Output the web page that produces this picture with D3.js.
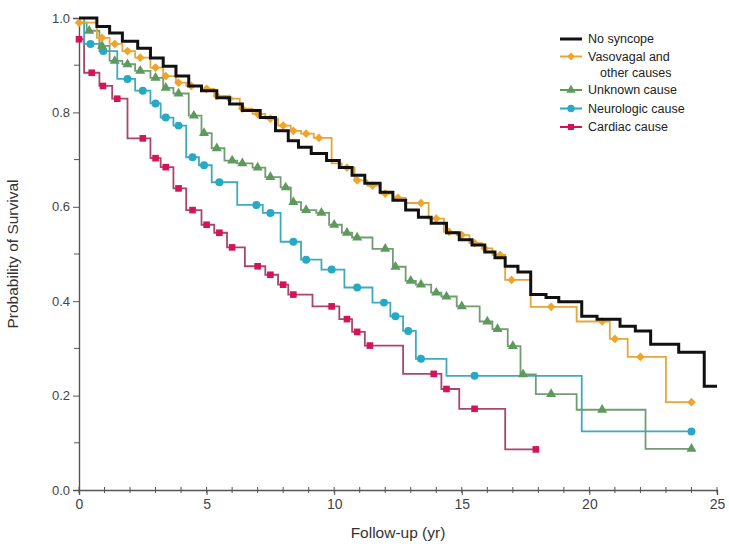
<!DOCTYPE html>
<html>
<head>
<meta charset="utf-8">
<script src="https://cdn.jsdelivr.net/npm/d3@7"></script>
<style>
  body { margin: 0; background: #fff; }
  text { font-family: "Liberation Sans", Arial, sans-serif; }
</style>
</head>
<body>
<div id="chart"></div>
<script>
// step data: time of drop (yr) and survival after it
var noSyncopeT = [0, 0.7, 1.2, 1.7, 2.3, 2.8, 3.3, 3.8, 4.3, 4.8, 5.4, 5.9, 6.4, 7.1, 7.7, 8.2, 8.6, 9.1, 9.7, 10.2, 10.7, 11.2, 11.8, 12.3, 12.8, 13.3, 13.8, 14.4, 14.9, 15.4, 15.9, 16.3, 16.7, 17.2, 17.7, 18.3, 18.8, 19.7, 20.3, 21.2, 21.8, 22.4, 23.5, 24.5];
var noSyncopeS = [1.0, 0.982, 0.968, 0.951, 0.936, 0.915, 0.898, 0.877, 0.856, 0.846, 0.831, 0.818, 0.804, 0.789, 0.761, 0.740, 0.726, 0.713, 0.698, 0.683, 0.667, 0.650, 0.631, 0.614, 0.593, 0.578, 0.565, 0.545, 0.530, 0.519, 0.504, 0.492, 0.474, 0.462, 0.414, 0.408, 0.399, 0.368, 0.362, 0.347, 0.337, 0.309, 0.292, 0.220];
var noSyncopeEnd = 25;
var noSyncopeMarks = [];

var vasovagalT = [0, 0.7, 1.2, 1.7, 2.2, 2.8, 3.3, 3.8, 4.2, 4.8, 5.3, 5.8, 6.3, 6.8, 7.3, 7.8, 8.3, 8.7, 9.2, 9.9, 10.3, 10.8, 11.3, 11.8, 12.3, 12.8, 13.7, 14.3, 14.8, 15.3, 15.8, 16.2, 16.7, 17.7, 19.5, 20.8, 21.5, 23.0];
var vasovagalS = [0.99, 0.958, 0.945, 0.930, 0.916, 0.895, 0.877, 0.863, 0.856, 0.850, 0.835, 0.829, 0.808, 0.797, 0.787, 0.772, 0.761, 0.755, 0.746, 0.692, 0.683, 0.656, 0.645, 0.628, 0.619, 0.608, 0.575, 0.547, 0.540, 0.523, 0.512, 0.498, 0.445, 0.388, 0.357, 0.320, 0.282, 0.186];
var vasovagalEnd = 24.0;
var vasovagalMarks = [0, 0.9, 1.4, 1.9, 2.4, 3.0, 3.4, 3.9, 4.4, 5.0, 5.4, 5.9, 6.4, 7.0, 7.5, 8.0, 8.4, 8.9, 9.4, 10.5, 10.9, 11.5, 12.0, 12.5, 13.4, 14.0, 14.5, 15.0, 15.5, 15.9, 16.5, 16.95, 18.5, 20.5, 21.0, 22.0, 24.0];

var unknownT = [0, 0.3, 0.8, 1.2, 1.7, 2.2, 2.8, 3.3, 3.7, 4.3, 4.8, 5.2, 5.7, 6.2, 6.8, 7.3, 7.9, 8.3, 8.7, 9.3, 9.8, 10.3, 10.7, 11.5, 12.3, 12.8, 13.2, 13.8, 14.2, 14.8, 15.7, 16.2, 16.8, 17.3, 17.9, 19.5, 22.2];
var unknownS = [0.99, 0.973, 0.941, 0.909, 0.902, 0.888, 0.873, 0.852, 0.840, 0.793, 0.756, 0.724, 0.698, 0.692, 0.683, 0.663, 0.641, 0.610, 0.593, 0.587, 0.562, 0.545, 0.535, 0.511, 0.473, 0.443, 0.435, 0.418, 0.410, 0.389, 0.357, 0.341, 0.305, 0.245, 0.203, 0.170, 0.087];
var unknownEnd = 24.0;
var unknownMarks = [0.4, 0.9, 1.4, 1.9, 2.4, 3.0, 3.4, 3.9, 4.5, 4.9, 5.4, 6.0, 6.4, 7.0, 7.5, 8.1, 8.4, 8.9, 9.5, 10.0, 10.5, 10.9, 12.0, 12.4, 13.0, 13.4, 14.0, 14.4, 15.0, 16.0, 16.4, 17.0, 17.4, 18.5, 20.5, 24.0];

var neuroT = [0, 0.2, 0.8, 1.5, 2.2, 2.8, 3.2, 3.7, 4.2, 4.7, 5.2, 6.2, 7.2, 7.9, 8.7, 9.5, 10.4, 11.5, 12.2, 12.7, 13.2, 14.4, 19.7];
var neuroS = [1.0, 0.945, 0.930, 0.871, 0.846, 0.819, 0.789, 0.772, 0.705, 0.688, 0.652, 0.604, 0.587, 0.526, 0.488, 0.467, 0.429, 0.397, 0.368, 0.337, 0.278, 0.242, 0.124];
var neuroEnd = 24.0;
var neuroMarks = [0.45, 0.95, 1.9, 2.5, 3.0, 3.4, 3.9, 4.45, 4.9, 5.5, 6.95, 7.5, 8.4, 8.9, 9.9, 10.9, 11.95, 12.4, 12.9, 13.4, 15.5, 24.0];

var cardiacT = [0, 0.2, 0.8, 1.3, 1.9, 2.8, 3.2, 3.7, 4.2, 4.8, 5.3, 5.8, 6.5, 7.3, 7.8, 8.2, 9.15, 10.2, 10.7, 11.2, 12.7, 14.2, 14.9, 16.7];
var cardiacS = [0.955, 0.884, 0.856, 0.829, 0.745, 0.703, 0.684, 0.639, 0.593, 0.562, 0.545, 0.514, 0.474, 0.456, 0.435, 0.414, 0.389, 0.362, 0.335, 0.306, 0.246, 0.214, 0.172, 0.086];
var cardiacEnd = 17.9;
var cardiacMarks = [0, 0.5, 0.94, 1.5, 2.5, 3.0, 3.4, 3.9, 4.45, 5.0, 5.5, 6.0, 7.0, 7.5, 8.0, 8.4, 9.9, 10.5, 10.9, 11.4, 13.9, 14.4, 15.5, 17.9];

var legendLabels = [["No syncope"], ["Vasovagal and", "other causes"], ["Unknown cause"], ["Neurologic cause"], ["Cardiac cause"]];
var xTicks = [0, 5, 10, 15, 20, 25];
var yTicks = [0, 0.2, 0.4, 0.6, 0.8, 1.0];

var W = 729, H = 548;
var margin = { top: 18, right: 12, bottom: 58, left: 79 };
var width = W - margin.left - margin.right;
var height = H - margin.top - margin.bottom;

var svg = d3.select("#chart").append("svg")
  .attr("width", W).attr("height", H)
  .append("g")
  .attr("transform", `translate(${margin.left},${margin.top})`);

var x = d3.scaleLinear().domain([0, 25]).range([0, width]);
var y = d3.scaleLinear().domain([0, 1]).range([height, 0]);

// diamond drawn as a square turned 45 degrees
var series = [
  { T: noSyncopeT, S: noSyncopeS, end: noSyncopeEnd, marks: noSyncopeMarks, line: "#111", fill: "#111", w: 3, sym: null },
  { T: vasovagalT, S: vasovagalS, end: vasovagalEnd, marks: vasovagalMarks, line: "#e3a73c", fill: "#f0a52a", w: 1.8, sym: d3.symbolSquare, rot: 45, size: 38 },
  { T: unknownT, S: unknownS, end: unknownEnd, marks: unknownMarks, line: "#739c73", fill: "#5e9a5c", w: 1.8, sym: d3.symbolTriangle, rot: 0, size: 44 },
  { T: neuroT, S: neuroS, end: neuroEnd, marks: neuroMarks, line: "#3eaabb", fill: "#27a9c6", w: 1.8, sym: d3.symbolCircle, rot: 0, size: 50 },
  { T: cardiacT, S: cardiacS, end: cardiacEnd, marks: cardiacMarks, line: "#a9466e", fill: "#d4145a", w: 1.8, sym: d3.symbolSquare, rot: 0, size: 44 }
];

// axes
var axisColor = "#555";
var yAxis = d3.axisLeft(y).tickValues(yTicks).tickFormat(d3.format(".1f")).tickSize(6).tickPadding(3);
var gy = svg.append("g").call(yAxis);
gy.selectAll(".tick text").attr("fill", "#444").style("font-size", "13px");
gy.append("g").selectAll("line").data(d3.range(0.1, 1, 0.2)).join("line")
  .attr("x1", -5).attr("x2", 0).attr("y1", d => y(d)).attr("y2", d => y(d)).attr("stroke", axisColor);

var xAxis = d3.axisBottom(x).tickValues(xTicks).tickSize(5).tickPadding(4);
var gx = svg.append("g").attr("transform", `translate(0,${height})`).call(xAxis);
gx.selectAll(".tick text").attr("fill", "#444").style("font-size", "14px");
gx.append("g").selectAll("line").data(d3.range(0, 26)).join("line")
  .attr("x1", d => x(d)).attr("x2", d => x(d)).attr("y1", -3).attr("y2", 3).attr("stroke", axisColor);
svg.selectAll(".domain, .tick line").attr("stroke", axisColor);
svg.selectAll(".domain").attr("stroke-width", 1.4);

svg.append("text")
  .attr("transform", `translate(${-61},${height / 2}) rotate(-90)`)
  .attr("text-anchor", "middle")
  .attr("fill", "#333")
  .style("font-size", "15.5px")
  .text("Probability of Survival");

svg.append("text")
  .attr("x", width / 2).attr("y", height + 48)
  .attr("text-anchor", "middle")
  .attr("fill", "#333")
  .style("font-size", "15.5px")
  .text("Follow-up (yr)");

// curves, drawn back to front
var line = d3.line().x(d => x(d[0])).y(d => y(d[1])).curve(d3.curveStepAfter);

function survAt(s, t) {
  var i = d3.bisectRight(s.T, t) - 1;
  return s.S[Math.max(i, 0)];
}

series.slice().reverse().forEach(function (s) {
  var pts = s.T.map((t, i) => [t, s.S[i]]);
  pts.push([s.end, s.S[s.S.length - 1]]);
  svg.append("path").datum(pts)
    .attr("d", line)
    .attr("fill", "none")
    .attr("stroke", s.line)
    .attr("stroke-width", s.w)
    .attr("stroke-linejoin", "miter");
  if (s.sym) {
    svg.append("g").selectAll("path").data(s.marks).join("path")
      .attr("transform", t => `translate(${x(t)},${y(survAt(s, t))}) rotate(${s.rot})`)
      .attr("d", d3.symbol().type(s.sym).size(s.size))
      .attr("fill", s.fill);
  }
});

// legend
var lg = svg.append("g").attr("transform", `translate(${560 - margin.left},${39 - margin.top})`);
var rowY = [0, 17.5, 51, 69.5, 88];
series.forEach(function (s, i) {
  var g = lg.append("g").attr("transform", `translate(0,${rowY[i]})`);
  g.append("line").attr("x1", 0).attr("x2", 22).attr("stroke", s.sym ? s.fill : s.line).attr("stroke-width", s.sym ? 2 : 3);
  if (s.sym) {
    g.append("path").attr("transform", `translate(11,0) rotate(${s.rot})`)
      .attr("d", d3.symbol().type(s.sym).size(s.size * 0.85)).attr("fill", s.fill);
  }
  legendLabels[i].forEach(function (lab, j) {
    g.append("text").attr("x", j ? 40 : 28).attr("y", j * 16).attr("dy", "0.35em")
      .attr("fill", "#222").style("font-size", "12.5px").text(lab);
  });
});
</script>
</body>
</html>
